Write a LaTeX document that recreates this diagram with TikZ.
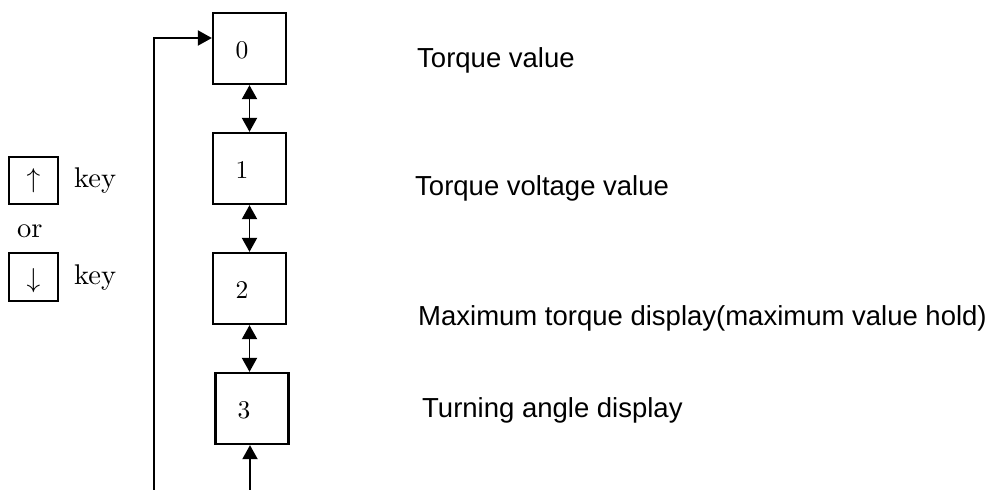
\documentclass[tikz,border=0pt]{standalone}
\usepackage{fontspec}
\newfontfamily\arialf{Liberation Sans}
\newfontfamily\lmrf[Extension=.otf]{lmroman10-regular}
\usetikzlibrary{arrows.meta}
\begin{document}
\begin{tikzpicture}[x=1pt,y=-1pt,
  boxst/.style={draw,line width=2.3pt,inner sep=0pt},
  conn/.style={line width=1.9pt},
  tip/.style={-{Triangle[length=14pt,width=15pt]}},
  dtip/.style={{Triangle[length=14pt,width=15pt]}-{Triangle[length=14pt,width=15pt]}},
  lbl/.style={anchor=base west,inner sep=0pt,font=\arialf\fontsize{27.5}{32}\selectfont},
  dig/.style={anchor=base,inner sep=0pt,font=\lmrf\fontsize{25.5}{30}\selectfont},
  keyt/.style={anchor=base west,inner sep=0pt,font=\lmrf\fontsize{28.5}{32}\selectfont}]
\useasboundingbox (0,0) rectangle (997,490);
% main boxes
\node[boxst,minimum width=73pt,minimum height=71pt] (b0) at (249.5,48.5) {};
\node[boxst,minimum width=73pt,minimum height=71pt] (b1) at (249.5,168.5) {};
\node[boxst,minimum width=73pt,minimum height=71pt] (b2) at (249.5,288.5) {};
\node[boxst,minimum width=73pt,minimum height=71pt] (b3) at (252,408.5) {};
\node[dig] (d0) at (242,58) {0};
\node[dig] (d1) at (242,178) {1};
\node[dig] (d2) at (242,298) {2};
\node[dig] (d3) at (244,418) {3};
% connectors
\draw[conn,dtip] (b0.south) -- (b1.north);
\draw[conn,dtip] (b1.south) -- (b2.north);
\draw[conn,dtip] (b2.south) -- (b2.south |- b3.north);
\coordinate (bot) at (250,490);
\draw[conn,tip] (bot) -- (bot |- b3.south);
\coordinate (lp) at (154,490);
\coordinate (lt) at (154,38);
\draw[conn,tip] (lp) -- (lt) -- (lt -| b0.west);
% labels
\node[lbl] (t0) at (417,67) {Torque value};
\node[lbl] (t1) at (415,195) {Torque voltage value};
\node[lbl] (t2) at (418,325) {Maximum torque display(maximum value hold)};
\node[lbl] (t3) at (422,417) {Turning angle display};
% key legend
\node[draw,line width=2.2pt,minimum width=49pt,minimum height=47pt,inner sep=0pt] (ku) at (33.5,180.5) {};
\node[draw,line width=2.2pt,minimum width=49pt,minimum height=48pt,inner sep=0pt] (kd) at (33.5,277) {};
\node[anchor=base,inner sep=0pt] (au) at (33.5,187) {\scalebox{1.1}{\fontsize{24.88}{30}\selectfont$\uparrow$}};
\node[anchor=base,inner sep=0pt] (ad) at (33.5,287) {\scalebox{1.1}{\fontsize{24.88}{30}\selectfont$\downarrow$}};
\node[keyt] (k1) at (74,187) {key};
\node[keyt] (k2) at (74,284) {key};
\node[keyt] (or) at (17,237) {or};
\end{tikzpicture}
\end{document}
